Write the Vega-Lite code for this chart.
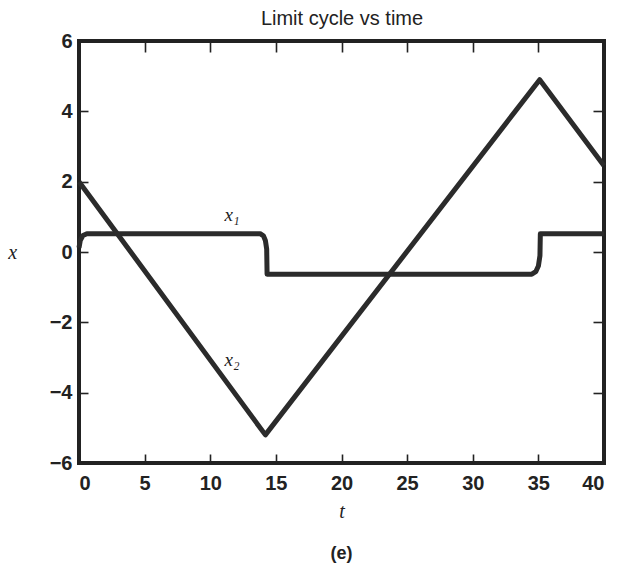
{
  "$schema": "https://vega.github.io/schema/vega-lite/v6.json",
  "autosize": "none",
  "width": 525,
  "height": 422,
  "padding": {"left": 79, "top": 41, "right": 14, "bottom": 104},
  "background": "white",
  "title": {"text": "(e)", "orient": "bottom", "offset": 24, "font": "Liberation Sans", "fontSize": 18, "fontWeight": "bold", "color": "#222"},
  "config": {
    "view": {"stroke": "#222", "strokeWidth": 4},
    "axis": {"grid": false, "domain": false, "tickColor": "#222", "tickWidth": 1.6, "tickSize": -9,
      "labelFont": "Liberation Sans", "labelFontSize": 20, "labelFontWeight": "bold", "labelColor": "#222",
      "titleColor": "#222"}
  },
  "datasets": {
    "lines": [
      {"series": "x1", "t": 0, "x": 0.12},
      {"series": "x1", "t": 0.1, "x": 0.33},
      {"series": "x1", "t": 0.3, "x": 0.47},
      {"series": "x1", "t": 0.6, "x": 0.52},
      {"series": "x1", "t": 13.8, "x": 0.52},
      {"series": "x1", "t": 14.05, "x": 0.46},
      {"series": "x1", "t": 14.2, "x": 0.33},
      {"series": "x1", "t": 14.3, "x": 0.08},
      {"series": "x1", "t": 14.33, "x": -0.63},
      {"series": "x1", "t": 34.5, "x": -0.63},
      {"series": "x1", "t": 34.8, "x": -0.56},
      {"series": "x1", "t": 35.0, "x": -0.4},
      {"series": "x1", "t": 35.12, "x": -0.1},
      {"series": "x1", "t": 35.15, "x": 0.52},
      {"series": "x1", "t": 40, "x": 0.52},
      {"series": "x2", "t": 0, "x": 2.0},
      {"series": "x2", "t": 14.2, "x": -5.2},
      {"series": "x2", "t": 35.1, "x": 4.9},
      {"series": "x2", "t": 40, "x": 2.45}
    ],
    "labels": [
      {"t": 11.66, "x": 1.05, "label": "x₁"},
      {"t": 11.66, "x": -3.08, "label": "x₂"}
    ]
  },
  "resolve": {"axis": {"x": "independent", "y": "independent"}},
  "layer": [
    {
      "data": {"name": "lines"},
      "mark": {"type": "line", "strokeWidth": 5, "color": "#2b2b2b", "strokeJoin": "round", "strokeCap": "butt"},
      "encoding": {
        "x": {"field": "t", "type": "quantitative", "scale": {"domain": [0, 40], "nice": false},
          "axis": {"orient": "bottom", "values": [0, 5, 10, 15, 20, 25, 30, 35, 40], "labelPadding": 19,
            "title": "t", "titleFont": "Liberation Serif", "titleFontStyle": "italic", "titleFontSize": 20, "titleFontWeight": "normal", "titlePadding": 8}},
        "y": {"field": "x", "type": "quantitative", "scale": {"domain": [-6, 6], "nice": false},
          "axis": {"orient": "left", "values": [-6, -4, -2, 0, 2, 4, 6], "labelPadding": 16,
            "title": "x", "titleAngle": 0, "titleFont": "Liberation Serif", "titleFontStyle": "italic", "titleFontSize": 20, "titleFontWeight": "normal", "titlePadding": 37, "titleBaseline": "middle"}},
        "detail": {"field": "series"}
      }
    },
    {
      "data": {"name": "labels"},
      "mark": {"type": "text", "font": "Liberation Serif", "fontStyle": "italic", "fontSize": 19, "color": "#222"},
      "encoding": {
        "x": {"field": "t", "type": "quantitative",
          "axis": {"orient": "top", "values": [0, 5, 10, 15, 20, 25, 30, 35, 40], "labels": false, "tickSize": -11,
            "title": "Limit cycle vs time", "titleFont": "Liberation Sans", "titleFontSize": 20, "titleFontWeight": "normal", "titlePadding": 12}},
        "y": {"field": "x", "type": "quantitative",
          "axis": {"orient": "right", "values": [-6, -4, -2, 0, 2, 4, 6], "labels": false, "tickSize": -11, "title": null}},
        "text": {"field": "label"}
      }
    }
  ]
}
